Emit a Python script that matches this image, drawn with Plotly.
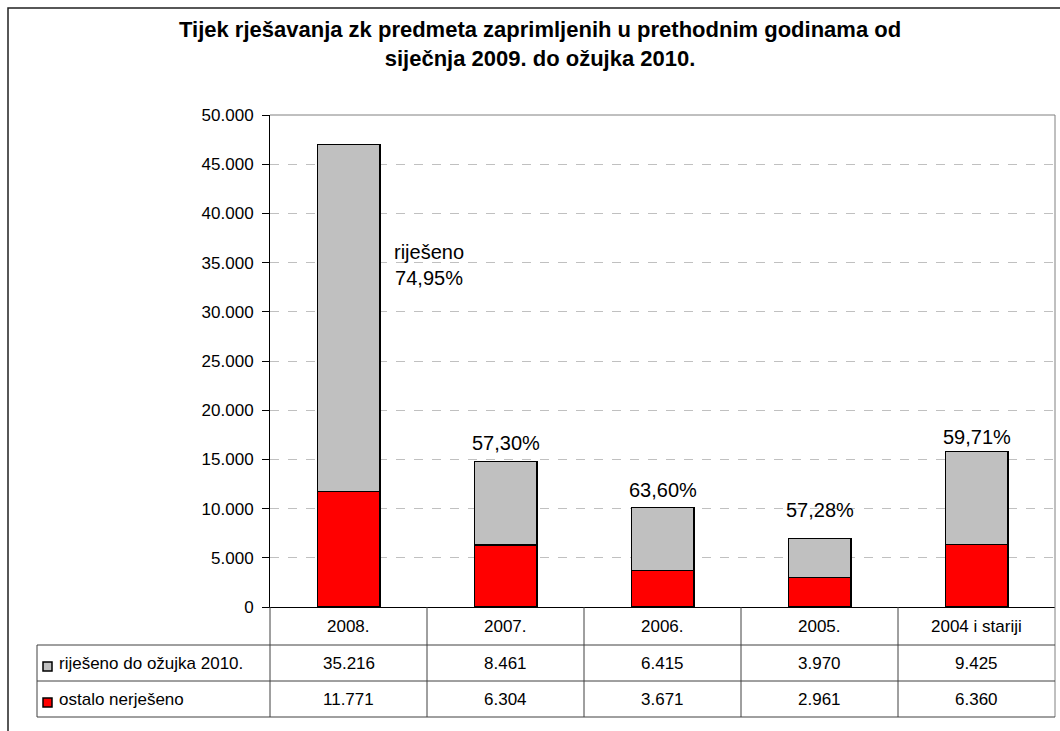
import plotly.graph_objects as go

# data
categories = ["2008.", "2007.", "2006.", "2005.", "2004 i stariji"]
solved = [35216, 8461, 6415, 3970, 9425]      # riješeno do ožujka 2010.
unsolved = [11771, 6304, 3671, 2961, 6360]     # ostalo nerješeno
solved_name = "riješeno do ožujka 2010."
unsolved_name = "ostalo nerješeno"

W, H = 1060, 731
FONT = "Arial, Liberation Sans, sans-serif"


def px(x):
    return x / W


def py(y):
    return 1 - y / H


def fmt(v):
    return f"{v:,}".replace(",", ".")


fig = go.Figure()
fig.add_trace(go.Bar(x=categories, y=unsolved, name=unsolved_name, width=0.4,
                     marker=dict(color="#FF0000", line=dict(color="black", width=1.2))))
fig.add_trace(go.Bar(x=categories, y=solved, name=solved_name, width=0.4,
                     marker=dict(color="#C0C0C0", line=dict(color="black", width=1.2))))

totals = [s + u for s, u in zip(solved, unsolved)]
shares = [s / t * 100 for s, t in zip(solved, totals)]
label_shift = [0, 19, 18, 29, 15]
pfont = dict(family=FONT, size=20, color="black")

# percentage labels
for i, (t, p) in enumerate(zip(totals, shares)):
    txt = f"{p:.2f}%".replace(".", ",")
    if i == 0:
        fig.add_annotation(x=0.5, y=34750, xref="x", yref="y", text="riješeno<br>" + txt,
                           xanchor="center", yanchor="middle", xshift=2,
                           showarrow=False, font=pfont)
    else:
        fig.add_annotation(x=i, y=t, xref="x", yref="y", text=txt, yshift=label_shift[i],
                           xanchor="center", yanchor="middle", showarrow=False, font=pfont)

shapes = []
# outer chart frame
shapes.append(dict(type="rect", xref="paper", yref="paper", x0=px(8), x1=1.02, y0=-0.02, y1=py(8),
                   line=dict(color="#202020", width=1.5)))
# plot area top and right border
shapes.append(dict(type="line", xref="paper", yref="paper", x0=px(270), x1=px(1055), y0=py(115), y1=py(115),
                   line=dict(color="#808080", width=1)))
shapes.append(dict(type="line", xref="paper", yref="paper", x0=px(1055), x1=px(1055), y0=py(717), y1=py(115),
                   line=dict(color="#808080", width=1)))

# data table grid
for yy in [645, 681, 717]:
    shapes.append(dict(type="line", xref="paper", yref="paper", x0=px(37), x1=px(1055), y0=py(yy), y1=py(yy),
                       line=dict(color="#404040", width=1)))
shapes.append(dict(type="line", xref="paper", yref="paper", x0=px(37), x1=px(37), y0=py(645), y1=py(717),
                   line=dict(color="#404040", width=1)))
shapes.append(dict(type="line", xref="paper", yref="paper", x0=px(270), x1=px(270), y0=py(607), y1=py(717),
                   line=dict(color="#404040", width=1)))
for i in range(len(categories) - 1):
    shapes.append(dict(type="line", xref="x", yref="paper", x0=i + 0.5, x1=i + 0.5, y0=py(607), y1=py(717),
                       line=dict(color="#404040", width=1)))

# legend keys in the table
shapes.append(dict(type="rect", xref="paper", yref="paper", x0=px(43), x1=px(52), y0=py(671), y1=py(662),
                   fillcolor="#C0C0C0", line=dict(color="black", width=1.5)))
shapes.append(dict(type="rect", xref="paper", yref="paper", x0=px(43), x1=px(52), y0=py(707), y1=py(698),
                   fillcolor="#FF0000", line=dict(color="black", width=1.5)))

tfont = dict(family=FONT, size=17, color="black")
for i, c in enumerate(categories):
    fig.add_annotation(x=i, y=py(626), xref="x", yref="paper", text=c, xanchor="center", yanchor="middle",
                       showarrow=False, font=tfont)
    fig.add_annotation(x=i, y=py(663), xref="x", yref="paper", text=fmt(solved[i]), xanchor="center",
                       yanchor="middle", showarrow=False, font=tfont)
    fig.add_annotation(x=i, y=py(699), xref="x", yref="paper", text=fmt(unsolved[i]), xanchor="center",
                       yanchor="middle", showarrow=False, font=tfont)
fig.add_annotation(x=px(57), y=py(663), xref="paper", yref="paper", text=solved_name, xanchor="left",
                   yanchor="middle", showarrow=False, font=tfont)
fig.add_annotation(x=px(57), y=py(699), xref="paper", yref="paper", text=unsolved_name, xanchor="left",
                   yanchor="middle", showarrow=False, font=tfont)

# title
fig.add_annotation(x=px(540), y=py(44), xref="paper", yref="paper", xanchor="center", yanchor="middle",
                   text="<b>Tijek rješavanja zk predmeta zaprimljenih u prethodnim godinama od<br>"
                        "siječnja 2009. do ožujka 2010.</b>",
                   showarrow=False, font=dict(family=FONT, size=22, color="black"))

fig.update_layout(
    width=W, height=H,
    margin=dict(l=0, r=0, t=0, b=0),
    barmode="stack",
    showlegend=False,
    separators=",.",
    paper_bgcolor="white",
    plot_bgcolor="white",
    font=dict(family=FONT, color="black"),
    shapes=shapes,
    xaxis=dict(domain=[px(270), px(1055)], range=[-0.5, 4.5], showticklabels=False, ticks="",
               showgrid=False, showline=True, linecolor="black", linewidth=1, zeroline=False,
               automargin=False),
    yaxis=dict(domain=[py(607), py(115)], range=[0, 50000], tickvals=list(range(0, 50001, 5000)),
               tickformat=",d", ticks="outside", ticklen=7, tickcolor="black", ticklabelstandoff=5,
               tickfont=dict(family=FONT, size=17, color="black"), automargin=False,
               showline=True, linecolor="black", linewidth=1, zeroline=False,
               showgrid=True, gridcolor="#C0C0C0", griddash="dash", gridwidth=1),
)

# page body margin would shift the fixed-size figure
fig.write_html("out.html", config={"displayModeBar": False},
               post_script="document.body.style.margin='0';document.body.style.overflow='hidden';")
